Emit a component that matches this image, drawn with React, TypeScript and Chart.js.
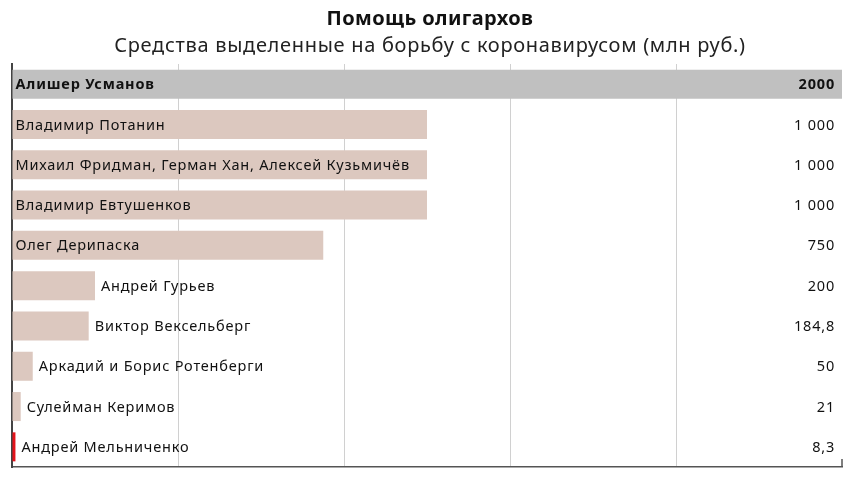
import { useEffect, useRef } from 'react';
import { Chart, registerables } from 'chart.js';
import type { ChartConfiguration, Plugin } from 'chart.js';

Chart.register(...registerables);

const names = [
  'Алишер Усманов',
  'Владимир Потанин',
  'Михаил Фридман, Герман Хан, Алексей Кузьмичёв',
  'Владимир Евтушенков',
  'Олег Дерипаска',
  'Андрей Гурьев',
  'Виктор Вексельберг',
  'Аркадий и Борис Ротенберги',
  'Сулейман Керимов',
  'Андрей Мельниченко',
];
const values = [2000, 1000, 1000, 1000, 750, 200, 184.8, 50, 21, 8.3];
const valueLabels = ['2000', '1 000', '1 000', '1 000', '750', '200', '184,8', '50', '21', '8,3'];
const barColors = [
  '#c0c0c0', '#dcc8bf', '#dcc8bf', '#dcc8bf', '#dcc8bf',
  '#dcc8bf', '#dcc8bf', '#dcc8bf', '#dcc8bf', '#e3131b',
];

const FONT = '"Noto Sans", "DejaVu Sans", sans-serif';

const labelPlugin: Plugin<'bar'> = {
  id: 'barLabels',
  afterDatasetsDraw(chart) {
    const { ctx, chartArea } = chart;
    const meta = chart.getDatasetMeta(0);
    ctx.save();
    ctx.textBaseline = 'middle';
    ctx.fillStyle = '#111';
    (ctx as any).letterSpacing = '0.8px';
    meta.data.forEach((bar, i) => {
      const { x, y, base } = bar.getProps(['x', 'y', 'base'], true) as any;
      ctx.font = `${i === 0 ? 'bold ' : ''}14.5px ${FONT}`;
      const w = ctx.measureText(names[i]).width;
      const inside = w + 8 < x - base;
      ctx.textAlign = 'left';
      ctx.fillText(names[i], inside ? base + 3 : x + 6, y + 1);
      ctx.textAlign = 'right';
      ctx.fillText(valueLabels[i], chartArea.right - 7, y + 1);
    });
    // small end tick on the bottom axis
    const xr = chart.scales.x.getPixelForValue(2000);
    ctx.strokeStyle = '#555';
    ctx.lineWidth = 1.5;
    ctx.beginPath();
    ctx.moveTo(xr, chartArea.bottom - 8);
    ctx.lineTo(xr, chartArea.bottom);
    ctx.stroke();
    ctx.restore();
  },
};

function OligarchChart() {
  const chartRef = useRef<HTMLCanvasElement>(null);
  const chartInstance = useRef<Chart | null>(null);

  useEffect(() => {
    if (!chartRef.current) return;
    const ctx = chartRef.current.getContext('2d');
    if (!ctx) return;

    const config: ChartConfiguration<'bar'> = {
      type: 'bar',
      data: {
        labels: names,
        datasets: [
          {
            data: values,
            backgroundColor: barColors,
            barPercentage: 0.72,
            categoryPercentage: 1,
          },
        ],
      },
      options: {
        indexAxis: 'y',
        responsive: true,
        maintainAspectRatio: false,
        animation: false,
        layout: { padding: { left: 12, right: 18, top: 64, bottom: 23 } },
        plugins: {
          legend: { display: false },
          tooltip: { enabled: false },
        },
        scales: {
          x: {
            min: 0,
            max: 2000,
            ticks: { display: false, stepSize: 400 },
            grid: {
              drawTicks: false,
              color: (c: any) => (c.tick && c.tick.value > 0 && c.tick.value < 2000 ? '#d0d0d0' : 'rgba(0,0,0,0)'),
            },
            border: { display: true, color: '#555', width: 1.5 },
          },
          y: {
            ticks: { display: false },
            grid: { display: false, drawTicks: false },
            border: { display: true, color: '#444', width: 2 },
          },
        },
      },
      plugins: [labelPlugin],
    };

    if (chartInstance.current) chartInstance.current.destroy();
    chartInstance.current = new Chart(ctx, config);
    return () => {
      if (chartInstance.current) chartInstance.current.destroy();
    };
  }, []);

  return (
    <div style={{ position: 'relative', width: 860, height: 490, background: '#fff', fontFamily: FONT, color: '#111' }}>
      <div
        style={{
          position: 'absolute', top: 6, left: 0, width: 860, textAlign: 'center',
          fontSize: 20, lineHeight: '24px', fontWeight: 700, letterSpacing: '0.4px',
        }}
      >
        Помощь олигархов
      </div>
      <div
        style={{
          position: 'absolute', top: 33, left: 0, width: 860, textAlign: 'center',
          fontSize: 20, lineHeight: '24px', letterSpacing: '0.7px', color: '#222',
        }}
      >
        Средства выделенные на борьбу с коронавирусом (млн руб.)
      </div>
      <canvas ref={chartRef}></canvas>
    </div>
  );
}

export default function App() {
  useEffect(() => {
    document.body.style.margin = '0';
  }, []);
  return <OligarchChart />;
}
